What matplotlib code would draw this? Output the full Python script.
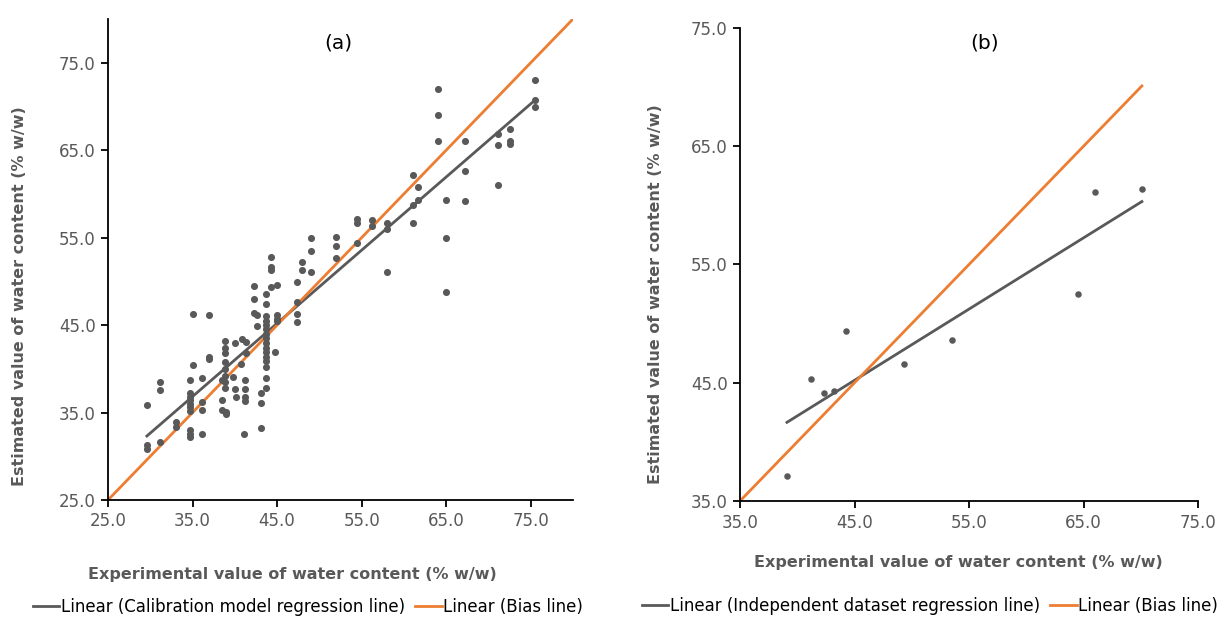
import numpy as np
import matplotlib
matplotlib.use("Agg")
import matplotlib.pyplot as plt
from matplotlib.ticker import FormatStrFormatter

# ---------------- data: panel (a) calibration set ----------------
cal_x = [29.6, 29.6, 29.6, 31.1, 31.1, 31.1, 33.1, 33.1,
         34.7, 34.7, 34.7, 34.7, 34.7, 34.7, 34.7, 34.7, 34.7, 34.7, 35.1, 35.1,
         36.1, 36.1, 36.1, 36.1, 36.9, 36.9, 36.9,
         38.8, 38.8, 38.8, 38.8, 38.8, 38.8, 38.8, 38.8, 38.5, 38.5, 38.5, 39.0, 39.0,
         40.0, 39.8, 40.0, 40.1, 40.8, 41.3, 41.3, 40.7,
         41.2, 41.2, 41.2, 41.2, 41.1,
         42.3, 42.3, 42.3, 42.6, 42.6, 43.05, 43.05, 43.05,
         43.7, 43.7, 43.7, 43.7, 43.7, 43.7, 43.7, 43.7, 43.7, 43.7, 43.7, 43.7, 43.7, 43.7, 43.7, 43.7,
         44.3, 44.3, 44.3, 44.3, 44.8,
         45.0, 45.0, 45.0, 45.0,
         47.4, 47.4, 47.4, 47.4, 47.9, 47.9,
         49.05, 49.05, 49.05, 52.0, 52.0, 52.0,
         54.5, 54.5, 54.5, 56.2, 56.2, 58.05, 58.05, 58.05,
         61.1, 61.1, 61.1, 61.7, 61.7,
         64.0, 64.0, 64.0, 65.0, 65.0, 65.0,
         67.2, 67.2, 67.2, 71.1, 71.1, 71.1, 72.5, 72.5, 72.5,
         75.5, 75.5, 75.5]
cal_y = [35.9, 31.3, 30.8, 38.5, 37.6, 31.6, 33.9, 33.4,
         38.7, 37.2, 36.8, 36.4, 36.0, 35.6, 35.2, 33.0, 32.6, 32.2, 46.3, 40.4,
         39.0, 36.2, 35.3, 32.6, 46.2, 41.4, 41.15,
         43.2, 42.4, 41.8, 40.8, 40.0, 39.2, 38.5, 37.8, 38.7, 36.4, 35.25, 35.1, 34.8,
         42.9, 39.05, 37.7, 36.8, 43.4, 43.05, 41.8, 40.5,
         38.7, 37.7, 36.8, 36.3, 32.6,
         49.5, 48.0, 46.35, 46.1, 44.95, 37.2, 36.1, 33.2,
         48.6, 47.4, 46.0, 45.5, 45.0, 44.5, 44.0, 43.5, 42.9, 42.4, 41.9, 41.4, 40.9, 40.2, 38.9, 37.8,
         52.75, 51.6, 51.3, 49.4, 41.9,
         49.6, 46.2, 45.7, 45.5,
         49.9, 47.6, 46.3, 45.3, 52.2, 51.3,
         55.0, 53.5, 51.1, 55.1, 54.0, 52.7,
         57.1, 56.7, 54.4, 57.0, 56.35, 56.7, 56.0, 51.1,
         62.2, 58.7, 56.7, 60.8, 59.3,
         72.0, 69.0, 66.0, 59.3, 55.0, 48.75,
         66.0, 62.6, 59.2, 66.9, 65.6, 61.0, 67.4, 66.1, 65.7,
         73.0, 70.75, 69.9]

# ---------------- data: panel (b) independent set ----------------
ind_x = [39.1, 41.2, 42.3, 43.25, 44.25, 49.3, 53.5, 64.5, 66.0, 70.1]
ind_y = [37.1, 45.3, 44.1, 44.3, 49.35, 46.6, 48.6, 52.5, 61.1, 61.35]

a_ticks = [25.0, 35.0, 45.0, 55.0, 65.0, 75.0]
b_ticks = [35.0, 45.0, 55.0, 65.0, 75.0]

GRAY = "#595959"
ORANGE = "#ED7D31"

plt.rcParams['font.family'] = ['DejaVu Sans']

fig = plt.figure(figsize=(12.21, 6.19), dpi=100)
W, H = 1221, 619

def add_ax(l, r, t, b):
    return fig.add_axes([l / W, 1 - b / H, (r - l) / W, (b - t) / H])

axa = add_ax(108, 573, 19, 500)
axb = add_ax(740, 1198, 28, 501)

def style(ax, lim, ticks):
    ax.set_xlim(*lim[0]); ax.set_ylim(*lim[1])
    ax.set_xticks(ticks); ax.set_yticks(ticks)
    ax.xaxis.set_major_formatter(FormatStrFormatter('%.1f'))
    ax.yaxis.set_major_formatter(FormatStrFormatter('%.1f'))
    for s in ['top', 'right']:
        ax.spines[s].set_visible(False)
    for s in ['left', 'bottom']:
        ax.spines[s].set_linewidth(1.3)
        ax.spines[s].set_color('black')
    ax.tick_params(direction='out', length=5, width=1.3, colors='black',
                   labelcolor=GRAY, labelsize=12, pad=4)

# panel a
cx = np.array(cal_x); cy = np.array(cal_y)
axa.scatter(cx, cy, s=26, color=GRAY, zorder=3, linewidths=0)
pa = np.polyfit(cx, cy, 1)
xa = np.array([cx.min(), cx.max()])
la, = axa.plot(xa, np.polyval(pa, xa), color=GRAY, lw=2, zorder=2,
               label='Linear (Calibration model regression line)')
ba, = axa.plot([25, 80], [25, 80], color=ORANGE, lw=2, zorder=2,
               label='Linear (Bias line)')
style(axa, ((25, 80), (25, 80)), a_ticks)

# panel b
ix = np.array(ind_x); iy = np.array(ind_y)
axb.scatter(ix, iy, s=22, color=GRAY, zorder=3, linewidths=0)
pb = np.polyfit(ix, iy, 1)
xb = np.array([ix.min(), ix.max()])
lb, = axb.plot(xb, np.polyval(pb, xb), color=GRAY, lw=2, zorder=2,
               label='Linear (Independent dataset regression line)')
bb, = axb.plot([35, ix.max()], [35, ix.max()], color=ORANGE, lw=2, zorder=2,
               label='Linear (Bias line)')
style(axb, ((35, 75), (35, 75)), b_ticks)

# titles
fig.text(338 / W, 1 - 43 / H, '(a)', fontsize=14.5, ha='center', va='center')
fig.text(985 / W, 1 - 43 / H, '(b)', fontsize=14.5, ha='center', va='center')

# axis labels
lab_kw = dict(fontsize=11.5, fontweight='bold', color=GRAY, ha='center', va='center')
xlab = 'Experimental value of water content (% w/w)'
ylab = 'Estimated value of water content (% w/w)'
fig.text(292 / W, 1 - 574 / H, xlab, **lab_kw)
fig.text(958 / W, 1 - 563 / H, xlab, **lab_kw)
fig.text(20 / W, 1 - 296 / H, ylab, rotation=90, **lab_kw)
fig.text(656 / W, 1 - 294 / H, ylab, rotation=90, **lab_kw)

# legends
leg_kw = dict(loc='center', ncol=2, frameon=False, fontsize=12,
              handlelength=1.6, handletextpad=0.1, columnspacing=0.6)
fig.legend(handles=[la, ba], bbox_to_anchor=(308 / W, 1 - 607 / H), **leg_kw)
fig.legend(handles=[lb, bb], bbox_to_anchor=(930 / W, 1 - 606 / H), **leg_kw)

fig.savefig('out.png', dpi=100)
